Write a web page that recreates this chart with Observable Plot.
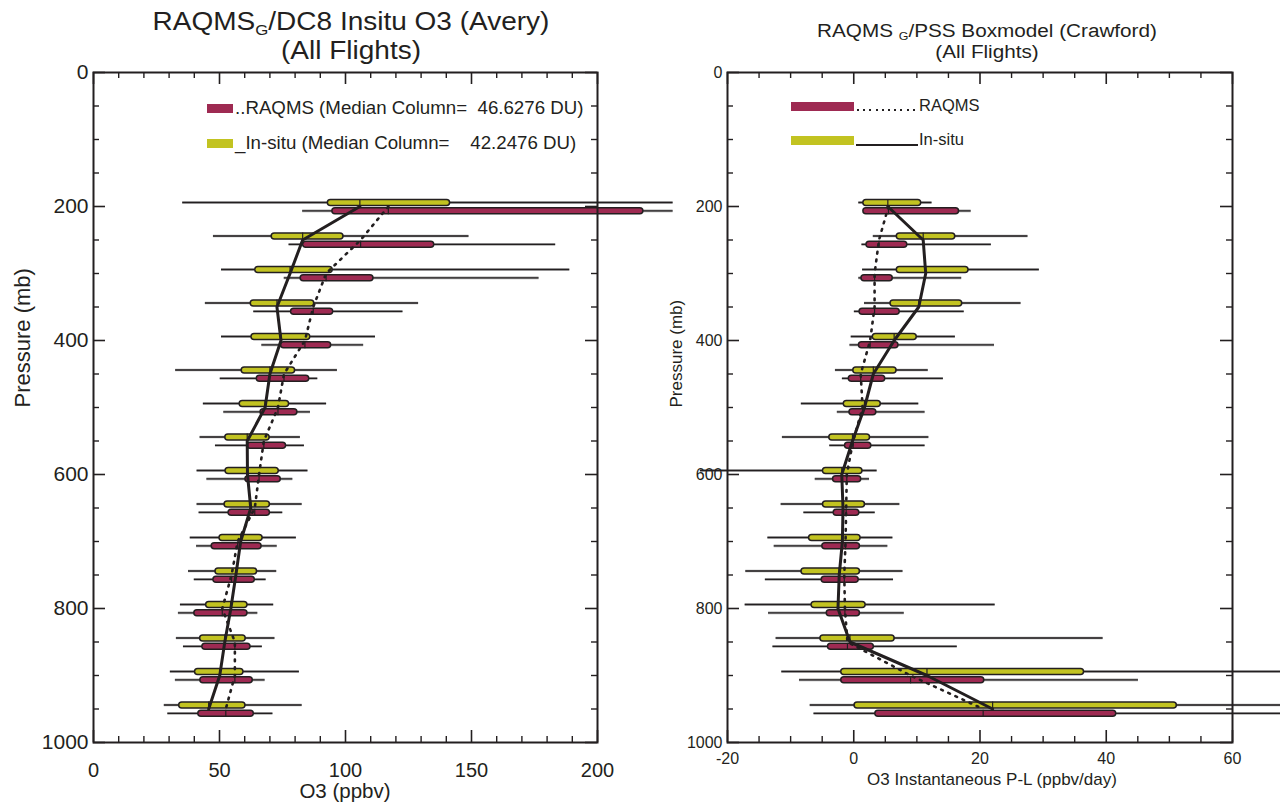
<!DOCTYPE html>
<html><head><meta charset="utf-8">
<script src="https://cdn.jsdelivr.net/npm/d3@7"></script>
<script src="https://cdn.jsdelivr.net/npm/@observablehq/plot@0.6"></script>
<style>
html,body{margin:0;padding:0;width:1280px;height:802px;overflow:hidden;background:#fff;font-family:"Liberation Sans",Arial,sans-serif;color:#231f20}
#wrap{position:relative;width:1280px;height:802px;overflow:hidden}
.panel{position:absolute;top:0}
.tline{position:absolute;white-space:nowrap;text-align:center;line-height:1}
.tline sub{font-size:60%;vertical-align:-0.3em;line-height:0}
.leg{position:absolute;white-space:pre;line-height:1}
.sw{position:absolute}
</style></head><body><div id="wrap"></div>
<script>
// ---------- data ----------
const pressure = [200,250,300,350,400,450,500,550,600,650,700,750,800,850,900,950];
const seriesNames = ["RAQMS","In-situ"];
const seriesColors = ["#9e2a52","#c2c321"];

// Left panel: O3 (ppbv)  rows = [whisker low, q1, median, q3, whisker high]
const o3Insitu = [
  [35.4,94.2,105.7,140.3,230],[47.6,71.9,83,98,149],[50.8,65.4,78,93.7,189],[44.4,63.6,72.8,86.4,129],
  [50.8,63.9,74.4,84.8,111.9],[32.6,60,70,78.8,96.8],[43.6,59.2,68.1,76.4,92.5],[42.3,53.5,61,68.7,82.1],
  [41.1,53.6,61.1,72.3,85.1],[41.1,53.2,62.4,68.8,82.8],[38.4,51.2,58.4,65.9,80.5],[37.7,49.6,56.5,63.7,72.7],
  [34.5,45.9,54.5,59.9,71.5],[32.9,43.5,52.1,59.2,72],[30.5,41.5,50.1,58.3,81.7],[28.1,35.2,45.7,59.1,82.8]
];
const o3Raqms = [
  [83,96,117,217,230],[77.6,84.4,106,134,183.4],[75.7,83.4,92.3,109.9,176.8],[63.6,79.6,87.2,93.9,122.8],
  [66.8,75.6,83.9,93.1,107.2],[50.3,66,75.6,84.4,89],[51.7,67.5,73.2,79.7,86.1],[48.4,62.3,67.6,75.2,83.7],
  [45,61.5,65.7,73.1,79.1],[41.9,54.8,64,68.8,75.1],[40.9,48.1,57.2,65.5,72.9],[40,48.8,54.8,62.8,68.5],
  [33.7,41.2,51.1,59.9,65.2],[35.7,44.4,56.1,61.1,67],[32.5,43.6,56.1,62,68.1],[29.5,42.8,52.5,62.4,71.2]
];
// Right panel: O3 instantaneous P-L (ppbv/day)
const plInsitu = [
  [0.8,2.0,5.4,10.2,12.4],[3.1,7.3,11.0,15.6,27.6],[1.4,7.3,11.4,17.7,29.4],[1.7,6.3,10.3,16.7,26.5],
  [-0.4,3.5,6.4,9.5,16.1],[-2.9,0.4,3.1,6.3,11.8],[-8.3,-1.1,1.7,3.8,10.3],[-11.3,-3.4,-0.2,2.1,11.9],
  [-24.3,-4.4,-1.9,0.9,3.7],[-11.5,-4.4,-1.7,1.3,7.3],[-13.6,-6.6,-1.8,0.6,6.2],[-17.1,-7.8,-2.3,0.5,7.8],
  [-17.2,-6.2,-2.5,1.4,22.4],[-12.3,-4.8,-0.6,6.0,39.5],[-11.4,-1.5,11.6,36,72],[-6.9,0.6,22.0,50.7,75]
];
const plRaqms = [
  [1.9,2.0,5.5,16.2,18.6],[1.3,2.5,4.0,8.0,21.8],[0.8,1.7,3.3,5.7,17.1],[0.1,1.4,3.3,6.8,17.5],
  [-0.6,1.3,2.6,6.6,22.3],[-1.8,-0.3,1.1,4.5,14.2],[-2.6,-0.2,1.4,3.1,11.3],[-3.8,-0.9,-0.1,2.3,11.3],
  [-6.1,-2.8,-1.1,0.7,2.5],[-7.9,-2.7,-1.2,0.4,3.4],[-12.6,-4.5,-1.3,0.5,5.4],[-14.0,-4.6,-1.5,0.3,6.3],
  [-13.5,-3.8,-1.4,0.5,8.0],[-12.8,-3.6,-1.0,2.7,16.4],[-8.6,-1.5,9.0,20.2,45.1],[-6.3,3.9,20.5,41.1,75]
];
const pMajor = [0,200,400,600,800,1000];
const pMinor = [50,100,150,250,300,350,450,500,550,650,700,750,850,900,950];
const o3Major = [0,50,100,150,200];
const o3Minor = [10,20,30,40,60,70,80,90,110,120,130,140,160,170,180,190];
const plMajor = [-20,0,20,40,60];
const plMinor = [-15,-10,-5,5,10,15,25,30,35,45,50,55];

// ---------- drawing ----------
const ink = "#231f20";
const FONT = "'Liberation Sans', Arial, sans-serif";
const vbar = {draw(ctx, size){ const h = Math.sqrt(size/Math.PI); ctx.moveTo(0,-h); ctx.lineTo(0,h); }};

function rowsOf(arr, series, off){
  return arr.map((r,i)=>({p:pressure[i], y:pressure[i]+off, lo:r[0], q1:r[1], med:r[2], q3:r[3], hi:r[4], series}));
}

function panel(o){
  const ins = rowsOf(o.insitu, "In-situ", -6);
  const raq = rowsOf(o.raqms, "RAQMS", 6.5);
  const all = ins.concat(raq);
  const H = 802, W = 640, mt = 72, mb = 60;
  const ih = H - mt - mb, iw = W - o.ml - o.mr;
  const maj = 12, mn = 6;
  const marks = [
      Plot.ruleY(all, {y: "y", x1: "lo", x2: "hi", stroke: "#a8a8a8", strokeWidth: 2.6}),
      Plot.ruleY(all, {y: "y", x1: "lo", x2: "hi", stroke: ink, strokeWidth: 1.3}),
      Plot.ruleY(all, {y: "y", x1: "q1", x2: "q3", stroke: ink, strokeWidth: 7.5, strokeLinecap: "round"}),
      Plot.ruleY(all, {y: "y", x1: "q1", x2: "q3", stroke: "series", strokeWidth: 4.5, strokeLinecap: "round"}),
      Plot.dot(all, {x: "med", y: "y", symbol: vbar, r: 3.5, fill: "none", stroke: ink, strokeWidth: 1.2}),
      Plot.line(ins, {x: "med", y: "p", stroke: ink, strokeWidth: 3}),
      Plot.line(raq, {x: "med", y: "p", stroke: ink, strokeWidth: 2.6, strokeDasharray: "1.8,6"}),
      Plot.frame({stroke: ink, strokeWidth: 2}),
      Plot.ruleX(o.xMajor, {insetBottom: ih - maj, stroke: ink, strokeWidth: 1.6}),
      Plot.ruleX(o.xMajor, {insetTop: ih - maj, stroke: ink, strokeWidth: 1.6}),
      Plot.ruleX(o.xMinor, {insetBottom: ih - mn, stroke: ink, strokeWidth: 1.4}),
      Plot.ruleX(o.xMinor, {insetTop: ih - mn, stroke: ink, strokeWidth: 1.4}),
      Plot.ruleY(pMajor, {insetRight: iw - maj, stroke: ink, strokeWidth: 1.6}),
      Plot.ruleY(pMajor, {insetLeft: iw - maj, stroke: ink, strokeWidth: 1.6}),
      Plot.ruleY(pMinor, {insetRight: iw - mn, stroke: ink, strokeWidth: 1.4}),
      Plot.ruleY(pMinor, {insetLeft: iw - mn, stroke: ink, strokeWidth: 1.4}),
      Plot.axisX({ticks: o.xMajor, tickSize: 0, tickPadding: o.xPad, fontSize: o.tickFont, label: null, tickFormat: d => String(d)}),
      Plot.axisY({ticks: pMajor, tickSize: 0, tickPadding: 5, fontSize: o.yTickFont, label: null, tickFormat: d => String(d)}),
      Plot.text(["Pressure (mb)"], {frameAnchor: "left", rotate: -90, dx: o.yLabelDx, fontSize: o.labelFont, fill: ink})
  ];
  if (o.xLabelInSvg) marks.push(Plot.text([o.xLabel], {frameAnchor: "bottom", dx: o.xLabelDx, dy: o.xLabelDy, fontSize: o.xLabelFont, fill: ink}));
  return Plot.plot({
    width: W, height: H,
    marginLeft: o.ml, marginRight: o.mr, marginTop: mt, marginBottom: mb,
    x: {domain: o.xDomain},
    y: {domain: [0, 1000], reverse: true},
    color: {domain: seriesNames, range: seriesColors},
    style: {overflow: "visible", background: "transparent", fontFamily: FONT, color: ink},
    marks
  });
}

const wrap = document.getElementById("wrap");

const left = panel({ml: 93, mr: 43, xDomain: [0, 200], xMajor: o3Major, xMinor: o3Minor,
  insitu: o3Insitu, raqms: o3Raqms, tickFont: 20, yTickFont: 21, labelFont: 22, xPad: 20,
  xLabelInSvg: false, yLabelDx: -71});
left.classList.add("panel"); left.style.left = "0px";
wrap.appendChild(left);

const right = panel({ml: 87, mr: 48, xDomain: [-20, 60], xMajor: plMajor, xMinor: plMinor,
  insitu: plInsitu, raqms: plRaqms, tickFont: 16, yTickFont: 16, labelFont: 17, xLabelFont: 17, xPad: 10,
  xLabelInSvg: true, xLabel: "O3 Instantaneous P-L (ppbv/day)", xLabelDx: 12, xLabelDy: 42, yLabelDx: -51});
right.classList.add("panel"); right.style.left = "640px";
wrap.appendChild(right);

function addHTML(html){ const d = document.createElement("div"); d.innerHTML = html; while (d.firstChild) wrap.appendChild(d.firstChild); }

// left x-axis title
addHTML(`<div class="tline" style="left:145px;width:400px;top:781px;height:20px;font-size:20.5px;line-height:20px">O3 (ppbv)</div>`);

// titles (one element per line, horizontally stretched to the reference width)
function titleLine(html, cx, cy, size, sx){
  addHTML(`<div class="tline" style="left:${cx-400}px;width:800px;top:${cy - size/2}px;font-size:${size}px;height:${size}px;transform:scaleX(${sx})">${html}</div>`);
}
titleLine("RAQMS<sub>G</sub>/DC8 Insitu O3 (Avery)", 351, 21, 25, 1.12);
titleLine("(All Flights)", 351, 50, 25, 1.12);
titleLine("RAQMS <sub>G</sub>/PSS Boxmodel (Crawford)", 987, 31, 18, 1.15);
titleLine("(All Flights)", 987, 52, 18, 1.15);

// legends
const [cR, cY] = seriesColors;
addHTML(`<div class="sw" style="left:207px;top:104px;width:26px;height:9px;background:${cR}"></div>`);
addHTML(`<div class="leg" style="left:235px;top:99px;font-size:18.7px">..${seriesNames[0]} (Median Column=  46.6276 DU)</div>`);
addHTML(`<div class="sw" style="left:207px;top:139px;width:26px;height:9px;background:${cY}"></div>`);
addHTML(`<div class="leg" style="left:235px;top:134px;font-size:18.7px">_${seriesNames[1]} (Median Column=    42.2476 DU)</div>`);

addHTML(`<div class="sw" style="left:791px;top:102px;width:63px;height:9px;background:${cR}"></div>`);
addHTML(`<div class="sw" style="left:857px;top:109px;width:62px;height:2px;background:repeating-linear-gradient(90deg, ${ink} 0 2px, transparent 2px 6.2px)"></div>`);
addHTML(`<div class="leg" style="left:919px;top:97px;font-size:16.5px">${seriesNames[0]}</div>`);
addHTML(`<div class="sw" style="left:791px;top:136px;width:63px;height:9px;background:${cY}"></div>`);
addHTML(`<div class="sw" style="left:856px;top:144px;width:62px;height:1.5px;background:${ink}"></div>`);
addHTML(`<div class="leg" style="left:919px;top:131px;font-size:16.5px">${seriesNames[1]}</div>`);
</script></body></html>
